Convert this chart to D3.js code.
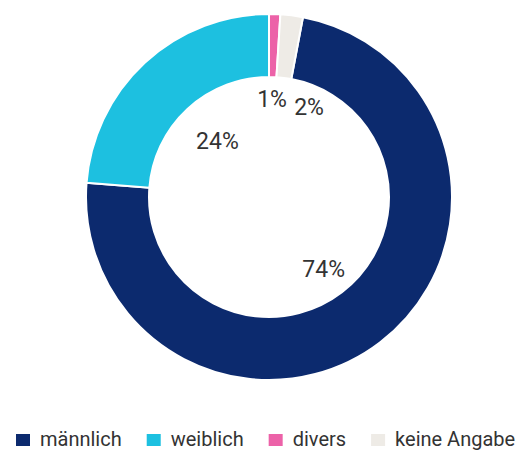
<!DOCTYPE html>
<meta charset="utf-8">
<script src="https://d3js.org/d3.v7.min.js"></script>
<style>
  body { margin: 0; background: #fff; }
  text { font-family: Roboto, "Noto Sans", sans-serif; fill: #333; }
</style>
<div id="chart"></div>
<script>

// data (legend order)
var categories = ["männlich", "weiblich", "divers", "keine Angabe"];
var values = [74, 24, 1, 2];
var labels = ["74%", "24%", "1%", "2%"];
var colors = ["#0c2a6e", "#1dc0e0", "#ec62a8", "#eeebe6"];

// order of the slices clockwise from 12 o'clock
var drawOrder = ["divers", "keine Angabe", "männlich", "weiblich"];

var width = 529, height = 450;
var cx = 269, cy = 197, outerR = 183, innerR = 120;

var svg = d3.select("#chart")
  .append("svg")
    .attr("width", width)
    .attr("height", height);

var g = svg.append("g")
    .attr("transform", "translate(" + cx + "," + cy + ")");

var data = categories.map(function(c, i) {
  return {name: c, value: values[i], label: labels[i], color: colors[i]};
});

var pie = d3.pie()
  .value(function(d) { return d.value; })
  .sort(function(a, b) { return drawOrder.indexOf(a.name) - drawOrder.indexOf(b.name); });

var arc = d3.arc().innerRadius(innerR).outerRadius(outerR);

var arcs = pie(data);

g.selectAll("path")
  .data(arcs)
  .enter()
  .append("path")
    .attr("d", arc)
    .attr("fill", function(d) { return d.data.color; })
    .attr("stroke", "#fff")
    .attr("stroke-width", 2);

// label positions, with a simple push to avoid overlap
var pos = arcs.map(function(d) {
  var r = d.data.value < 5 ? 98 : (d.data.name == "weiblich" ? 76 : 90);
  var a = (d.startAngle + d.endAngle) / 2;
  return {x: Math.sin(a) * r, y: -Math.cos(a) * r, d: d};
});
for (var i = 1; i < pos.length; i++) {
  var p = pos[i - 1], q = pos[i];
  if (Math.abs(q.y - p.y) < 20 && q.x - p.x < 37) {
    q.x = p.x + 37;
    q.y = p.y + 8;
  }
}

g.selectAll(".lbl")
  .data(pos)
  .enter()
  .append("text")
    .attr("class", "lbl")
    .attr("x", function(d) { return d.x; })
    .attr("y", function(d) { return d.y; })
    .attr("text-anchor", "middle")
    .attr("dy", "0.35em")
    .style("font-size", "23px")
    .text(function(d) { return d.d.data.label; });

// legend
var legend = svg.append("g").attr("transform", "translate(16,434)");
var xOff = 0;
data.forEach(function(d) {
  var item = legend.append("g").attr("transform", "translate(" + xOff + ",0)");
  item.append("rect")
    .attr("width", 14)
    .attr("height", 12)
    .attr("fill", d.color);
  var t = item.append("text")
    .attr("x", 24)
    .attr("y", 12)
    .style("font-size", "20px")
    .text(d.name);
  xOff += 24 + t.node().getComputedTextLength() + 25;
});

</script>
